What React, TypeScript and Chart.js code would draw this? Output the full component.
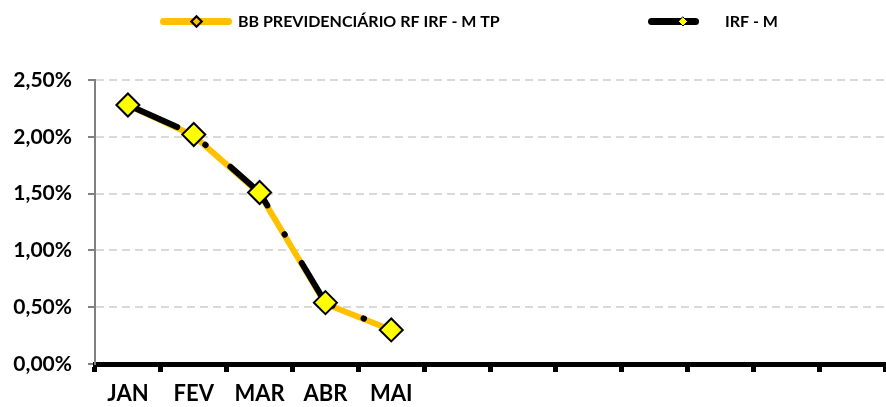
import { useEffect, useRef } from 'react';
import { Chart, registerables } from 'chart.js';

Chart.register(...registerables);

const categories = ['JAN', 'FEV', 'MAR', 'ABR', 'MAI', 'JUN', 'JUL', 'AGO', 'SET', 'OUT', 'NOV', 'DEZ'];
const tickLabels = ['JAN', 'FEV', 'MAR', 'ABR', 'MAI', '', '', '', '', '', '', ''];
const seriesNames = ['BB PREVIDENCIÁRIO RF IRF - M TP', 'IRF - M'];
const bbValues = [2.28, 2.01, 1.5, 0.53, 0.3];
const irfmValues = [2.28, 2.02, 1.51, 0.54, 0.3];
const yMin = 0;
const yMax = 2.5;
const yStep = 0.5;

const FONT = 'Lato, "Open Sans", sans-serif';

const legendPlugin = {
  id: 'customLegend',
  afterDraw(chart: any) {
    const ctx = chart.ctx as CanvasRenderingContext2D;
    const ds = chart.data.datasets;
    const y = 21.5;
    const diamond = (cx: number, cy: number, r: number, fill: string, stroke: string | null, lw: number) => {
      ctx.beginPath();
      ctx.moveTo(cx, cy - r);
      ctx.lineTo(cx + r, cy);
      ctx.lineTo(cx, cy + r);
      ctx.lineTo(cx - r, cy);
      ctx.closePath();
      ctx.fillStyle = fill;
      ctx.fill();
      if (stroke) {
        ctx.lineWidth = lw;
        ctx.strokeStyle = stroke;
        ctx.stroke();
      }
    };
    ctx.save();
    ctx.lineCap = 'round';
    // item 1
    ctx.lineWidth = 7;
    ctx.strokeStyle = '#FFC000';
    ctx.beginPath();
    ctx.moveTo(163.5, y);
    ctx.lineTo(228.5, y);
    ctx.stroke();
    diamond(196.5, y, 5.2, '#FFC000', '#000', 2.2);
    // item 2
    ctx.lineWidth = 7;
    ctx.strokeStyle = '#000';
    ctx.beginPath();
    ctx.moveTo(651.5, y);
    ctx.lineTo(695.5, y);
    ctx.stroke();
    diamond(683, y, 4.5, '#FFFF00', '#000', 1);
    ctx.fillStyle = '#000';
    ctx.font = `bold 16px ${FONT}`;
    ctx.textBaseline = 'middle';
    ctx.textAlign = 'left';
    ctx.fillText(ds[1].label, 238, y);
    ctx.fillText(ds[0].label, 725, y);
    ctx.restore();
  },
};

export default function App() {
  const ref = useRef<HTMLCanvasElement | null>(null);

  useEffect(() => {
    if (!ref.current) return;
    const chart = new Chart(ref.current, {
      type: 'line',
      data: {
        labels: categories,
        datasets: [
          {
            label: seriesNames[1],
            data: irfmValues,
            order: 0,
            borderColor: '#000000',
            borderWidth: 6,
            borderDash: [54, 33.5, 0.5, 33],
            borderCapStyle: 'round',
            borderJoinStyle: 'round',
            tension: 0,
            pointStyle: 'rectRot',
            pointRadius: 11.5,
            pointHoverRadius: 11.5,
            pointBackgroundColor: '#FFFF00',
            pointBorderColor: '#000000',
            pointBorderWidth: 2,
            fill: false,
          },
          {
            label: seriesNames[0],
            data: bbValues,
            order: 1,
            borderColor: '#FFC000',
            borderWidth: 6,
            borderCapStyle: 'round',
            borderJoinStyle: 'round',
            tension: 0,
            pointRadius: 0,
            pointHoverRadius: 0,
            fill: false,
          },
        ],
      },
      options: {
        responsive: false,
        animation: false,
        events: [],
        layout: { autoPadding: false, padding: { top: 80, right: 1, left: 0, bottom: 0 } },
        plugins: {
          legend: { display: false },
          tooltip: { enabled: false },
        },
        scales: {
          x: {
            offset: true,
            grid: {
              offset: true,
              drawOnChartArea: false,
              drawTicks: true,
              tickLength: 8,
              tickWidth: 5,
              tickColor: '#000',
              color: '#000',
            },
            border: { color: '#000', width: 5 },
            ticks: {
              autoSkip: false,
              maxRotation: 0,
              minRotation: 0,
              padding: 9,
              color: '#000',
              font: { family: FONT, weight: 'bold', size: 22 },
              callback: (_v: any, i: number) => tickLabels[i],
            },
            afterFit: (s: any) => {
              s.height = 43;
            },
          },
          y: {
            min: yMin,
            max: yMax,
            ticks: {
              stepSize: yStep,
              padding: 16,
              color: '#000',
              font: { family: FONT, weight: 'bold', size: 21 },
              callback: (v: any) => Number(v).toFixed(2).replace('.', ',') + '%',
            },
            grid: {
              color: '#d9d9d9',
              lineWidth: 2,
              tickColor: '#808080',
              tickWidth: 2,
              tickLength: 7,
              tickBorderDash: [],
            },
            border: { color: '#808080', width: 2, dash: [8, 5] },
            afterFit: (s: any) => {
              s.width = 95;
            },
          },
        },
      } as any,
      plugins: [legendPlugin],
    });
    return () => chart.destroy();
  }, []);

  return (
    <div style={{ position: 'fixed', left: 0, top: 0, width: 886, height: 407, background: '#fff' }}>
      <canvas ref={ref} width={886} height={407} style={{ display: 'block', width: 886, height: 407 }} />
    </div>
  );
}
